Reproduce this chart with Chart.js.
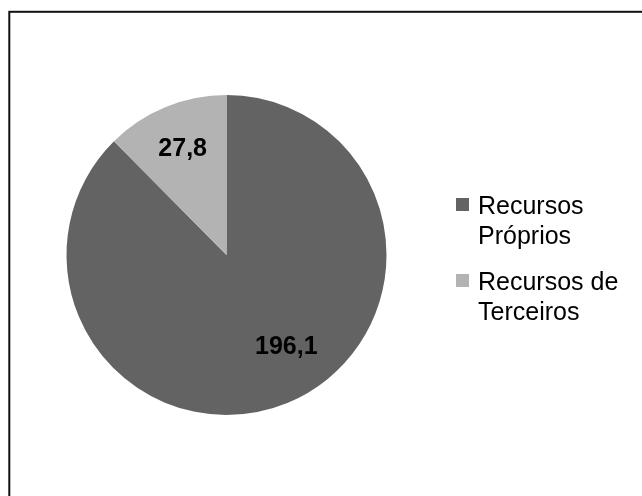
<!DOCTYPE html>
<html lang="pt">
<head>
<meta charset="utf-8">
<title>Recursos</title>
<script src="https://cdn.jsdelivr.net/npm/chart.js@4.4.1/dist/chart.umd.min.js"></script>
<style>
  html, body { margin: 0; padding: 0; background: #fff; overflow: hidden; }
  #wrap { width: 642px; height: 496px; }
</style>
</head>
<body>
<div id="wrap"><canvas id="pie" width="642" height="496"></canvas></div>
<script>
// Dados
const categorias = [["Recursos", "Próprios"], ["Recursos de", "Terceiros"]];
const valores = [196.1, 27.8];
const cores = ["#636363", "#b3b3b3"];

// deslocamento angular do rótulo de cada fatia (graus), como no Excel "melhor ajuste"
const desvioRotulo = [-11, 0];

const FONTE = "'Liberation Sans', Arial, sans-serif";

// moldura (só as bordas esquerda e superior aparecem no recorte)
const moldura = {
  id: "moldura",
  beforeDraw(chart) {
    const ctx = chart.ctx;
    ctx.save();
    ctx.strokeStyle = "#111";
    ctx.lineWidth = 2;
    ctx.strokeRect(9.3, 11.8, 1000, 1000);
    ctx.restore();
  }
};

// rótulos de valor dentro das fatias, com vírgula decimal
const rotulos = {
  id: "rotulos",
  afterDatasetsDraw(chart) {
    const ctx = chart.ctx;
    const meta = chart.getDatasetMeta(0);
    ctx.save();
    ctx.font = "bold 25px " + FONTE;
    ctx.fillStyle = "#000";
    ctx.textAlign = "center";
    ctx.textBaseline = "middle";
    meta.data.forEach((arc, i) => {
      const p = arc.getProps(["x", "y", "startAngle", "endAngle", "outerRadius"], true);
      const meio = (p.startAngle + p.endAngle) / 2 + desvioRotulo[i] * Math.PI / 180;
      const r = p.outerRadius * (i === 0 ? 0.68 : 0.72);
      const txt = valores[i].toFixed(1).replace(".", ",");
      ctx.fillText(txt, p.x + Math.cos(meio) * r, p.y + Math.sin(meio) * r + 1);
    });
    ctx.restore();
  }
};

// legenda à direita, com quebra de linha
const legenda = {
  id: "legenda",
  afterDraw(chart) {
    const ctx = chart.ctx;
    const x = 456, lineH = 30, gap = 16;
    let base = 214;
    ctx.save();
    ctx.font = "25px " + FONTE;
    ctx.textBaseline = "alphabetic";
    chart.data.labels.forEach((linhas, i) => {
      ctx.fillStyle = chart.data.datasets[0].backgroundColor[i];
      ctx.fillRect(x, base - 16, 13, 13);
      ctx.fillStyle = "#000";
      linhas.forEach((l, k) => ctx.fillText(l, x + 22, base + k * lineH));
      base += linhas.length * lineH + gap;
    });
    ctx.restore();
  }
};

new Chart(document.getElementById("pie"), {
  type: "pie",
  data: {
    labels: categorias,
    datasets: [{
      data: valores,
      backgroundColor: cores,
      borderWidth: 0,
      hoverOffset: 0
    }]
  },
  options: {
    responsive: false,
    animation: false,
    devicePixelRatio: 1,
    layout: { padding: { left: 66, right: 255, top: 95, bottom: 81 } },
    plugins: {
      legend: { display: false },
      tooltip: { enabled: false }
    }
  },
  plugins: [moldura, rotulos, legenda]
});
</script>
</body>
</html>
